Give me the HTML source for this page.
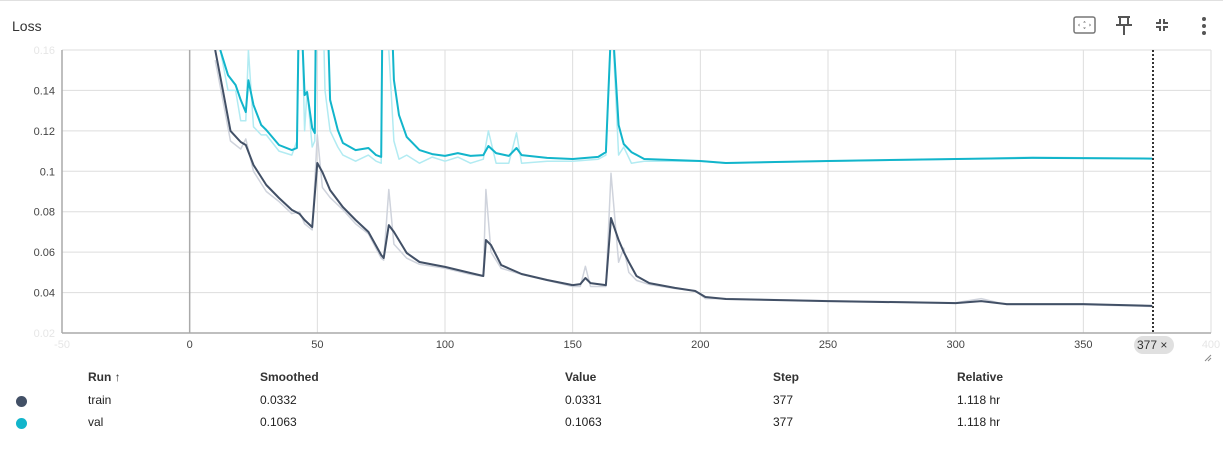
<!DOCTYPE html>
<html><head><meta charset="utf-8">
<style>
body{margin:0;width:1223px;height:451px;background:#fff;font-family:"Liberation Sans",sans-serif;overflow:hidden;position:relative;color:#212121}
.t{position:absolute;font-size:12px;white-space:nowrap}
.h{font-weight:bold;color:#333}
.dot{position:absolute;width:11px;height:11px;border-radius:50%}
</style></head><body>
<div style="position:absolute;left:0;top:0;width:1223px;height:1px;background:#e0e0e0"></div>
<div class="t" style="left:12px;top:18px;font-size:14px;color:#333">Loss</div>
<svg style="position:absolute;left:0;top:0" width="1223" height="451">
<g>
<g><rect x="1074" y="17" width="21" height="16" rx="2" fill="none" stroke="#777" stroke-width="1.5"/><path d="M1084.5 21l-1.5 1.5h3zM1084.5 29l-1.5-1.5h3zM1078 25l1.5-1.5v3zM1091 25l-1.5-1.5v3z" fill="#777"/></g>
<g><path d="M1118 17h12M1120 17v8M1128 17v8M1116 25h16M1124 25v10" stroke="#555" stroke-width="2" fill="none"/></g>
<g><path d="M1160 19v4h-4M1164 19v4h4M1160 31v-4h-4M1164 31v-4h4" stroke="#555" stroke-width="2" fill="none"/></g>
<g><circle cx="1204" cy="19" r="2" fill="#555"/><circle cx="1204" cy="26" r="2" fill="#555"/><circle cx="1204" cy="33" r="2" fill="#555"/></g>
</g>
<g id="grid"></g>
<g id="series" clip-path="url(#clip)"></g>
<defs><clipPath id="clip"><rect x="62" y="50" width="1150" height="283"/></clipPath></defs>
<g id="axes"></g>
<line x1="1153" y1="50" x2="1153" y2="333" stroke="#333" stroke-width="2" stroke-dasharray="2,2"/>
<g><rect x="1134" y="336" width="40" height="18" rx="9" fill="#e0e0e0"/><text x="1137" y="349" font-size="12" fill="#333">377 ×</text></g>
<path d="M1205 361l6-6M1208 361l3-3" stroke="#888" stroke-width="1"/>
</svg>
<div class="t h" style="left:88px;top:370px">Run ↑</div>
<div class="t h" style="left:260px;top:370px">Smoothed</div>
<div class="t h" style="left:565px;top:370px">Value</div>
<div class="t h" style="left:773px;top:370px">Step</div>
<div class="t h" style="left:957px;top:370px">Relative</div>
<div class="dot" style="left:16px;top:396px;background:#425066"></div>
<div class="t" style="left:88px;top:393px">train</div>
<div class="t" style="left:260px;top:393px">0.0332</div>
<div class="t" style="left:565px;top:393px">0.0331</div>
<div class="t" style="left:773px;top:393px">377</div>
<div class="t" style="left:957px;top:393px">1.118 hr</div>
<div class="dot" style="left:16px;top:418px;background:#12b5cb"></div>
<div class="t" style="left:88px;top:415px">val</div>
<div class="t" style="left:260px;top:415px">0.1063</div>
<div class="t" style="left:565px;top:415px">0.1063</div>
<div class="t" style="left:773px;top:415px">377</div>
<div class="t" style="left:957px;top:415px">1.118 hr</div>
<script>
const xTicks=[-50,0,50,100,150,200,250,300,350,400];
const yTicks=[0.02,0.04,0.06,0.08,0.1,0.12,0.14,0.16];
const yLabels=["0.02","0.04","0.06","0.08","0.1","0.12","0.14","0.16"];
const trainSteps=[10,13,16,20,22,25,30,35,40,43,45,48,50,52,55,60,65,70,75,76,78,80,85,90,100,110,115,116,118,122,130,140,150,153,155,157,163,165,168,170,172,175,180,190,198,202,210,250,300,310,320,350,377];
const trainSmooth=[0.16,0.14,0.12,0.1145,0.113,0.1031,0.0932,0.0868,0.0809,0.0789,0.0759,0.0724,0.1041,0.0996,0.0907,0.0823,0.0759,0.07,0.0586,0.0571,0.0734,0.07,0.0596,0.0551,0.0527,0.0497,0.0482,0.066,0.0635,0.0536,0.0492,0.0462,0.0437,0.0442,0.0472,0.0447,0.0437,0.0769,0.066,0.0601,0.0551,0.0482,0.0447,0.0423,0.0408,0.0378,0.0368,0.0358,0.0348,0.0358,0.0343,0.0343,0.0334];
const trainRaw=[0.155,0.135,0.115,0.111,0.116,0.1,0.09,0.085,0.079,0.08,0.074,0.071,0.118,0.092,0.087,0.081,0.074,0.069,0.057,0.056,0.091,0.064,0.057,0.054,0.052,0.049,0.048,0.091,0.06,0.052,0.049,0.046,0.043,0.043,0.053,0.043,0.043,0.099,0.055,0.062,0.05,0.046,0.044,0.042,0.041,0.037,0.037,0.036,0.035,0.037,0.034,0.034,0.0331];
const valSteps=[12,15,18,20,22,23,25,28,30,35,40,42,43,45,46,48,49,50,53,55,58,60,65,70,73,75,76,78,80,82,85,90,95,100,105,110,115,117,120,125,128,130,140,150,160,163,165,166,168,170,173,178,200,210,250,300,330,377];
const valSmooth=[0.16,0.1476,0.1427,0.1353,0.1293,0.145,0.1328,0.1229,0.1204,0.113,0.1105,0.1115,0.2,0.1377,0.1392,0.1214,0.1189,0.25,0.22,0.1353,0.1204,0.114,0.1105,0.1115,0.108,0.1071,0.25,0.22,0.1452,0.1278,0.117,0.1105,0.1085,0.1076,0.109,0.1076,0.108,0.1125,0.109,0.1076,0.1115,0.108,0.1066,0.1061,0.1071,0.1095,0.17,0.165,0.1229,0.1135,0.1095,0.1061,0.1051,0.1041,0.1051,0.1061,0.1066,0.1063];
const valRaw=[0.16,0.14,0.14,0.125,0.125,0.16,0.122,0.118,0.118,0.11,0.108,0.115,0.22,0.12,0.14,0.112,0.115,0.3,0.14,0.12,0.112,0.108,0.105,0.108,0.105,0.104,0.3,0.16,0.115,0.106,0.108,0.104,0.107,0.105,0.107,0.104,0.106,0.12,0.104,0.104,0.119,0.104,0.105,0.105,0.106,0.108,0.17,0.16,0.108,0.112,0.104,0.105,0.105,0.104,0.105,0.106,0.107,0.1063];
const NS='http://www.w3.org/2000/svg';
const X0=62,X1=1211,Y0=333,Y1=50;
const xs=v=>X0+(v+50)/450*(X1-X0);
const ys=v=>Y0-(v-0.02)/0.14*(Y0-Y1);
function mk(tag,attrs,parent){const e=document.createElementNS(NS,tag);for(const k in attrs)e.setAttribute(k,attrs[k]);parent.appendChild(e);return e;}
const grid=document.getElementById('grid'),axes=document.getElementById('axes'),ser=document.getElementById('series');
yTicks.forEach((t,i)=>{
 const l=mk('line',{x1:X0,x2:X1,y1:ys(t),y2:ys(t),stroke:'#ddd'},grid);
 
 
 const faded=(i==0||i==yTicks.length-1);
 const tx=mk('text',{x:55,y:ys(t)+4,'text-anchor':'end','font-size':11,fill:faded?'#e6e6e6':'#444'},axes);
 tx.textContent=yLabels[i];
 
 
});
xTicks.forEach((t,i)=>{
 const l=mk('line',{x1:xs(t),x2:xs(t),y1:Y1,y2:Y0,stroke:t==0?'#aaa':'#ddd','stroke-width':t==0?1.5:1},grid);
 
 
 const faded=(i==0||i==xTicks.length-1);
 const tx=mk('text',{x:xs(t),y:348,'text-anchor':'middle','font-size':11,fill:faded?'#e6e6e6':'#444'},axes);
 tx.textContent=String(t);
 
 
});
const ya=mk('line',{x1:X0,x2:X0,y1:Y1,y2:Y0,stroke:'#aaa','stroke-width':1.5},axes);


const xa=mk('line',{x1:X0,x2:X1,y1:Y0,y2:Y0,stroke:'#aaa','stroke-width':1.5},axes);


function line(steps,vals,color,w,name){
 const d=steps.map((s,i)=>(i?'L':'M')+xs(s).toFixed(1)+' '+ys(vals[i]).toFixed(1)).join('');
 const p=mk('path',{d:d,fill:'none',stroke:color,'stroke-width':w,'stroke-linejoin':'round'},ser);
 
 
}
line(trainSteps,trainRaw,'#cfd3dc',1.5,'train-raw-line');
line(valSteps,valRaw,'#b2ebf2',1.5,'val-raw-line');
line(trainSteps,trainSmooth,'#425066',2,'train-smoothed-line');
line(valSteps,valSmooth,'#12b5cb',2,'val-smoothed-line');
</script>
</body></html>
